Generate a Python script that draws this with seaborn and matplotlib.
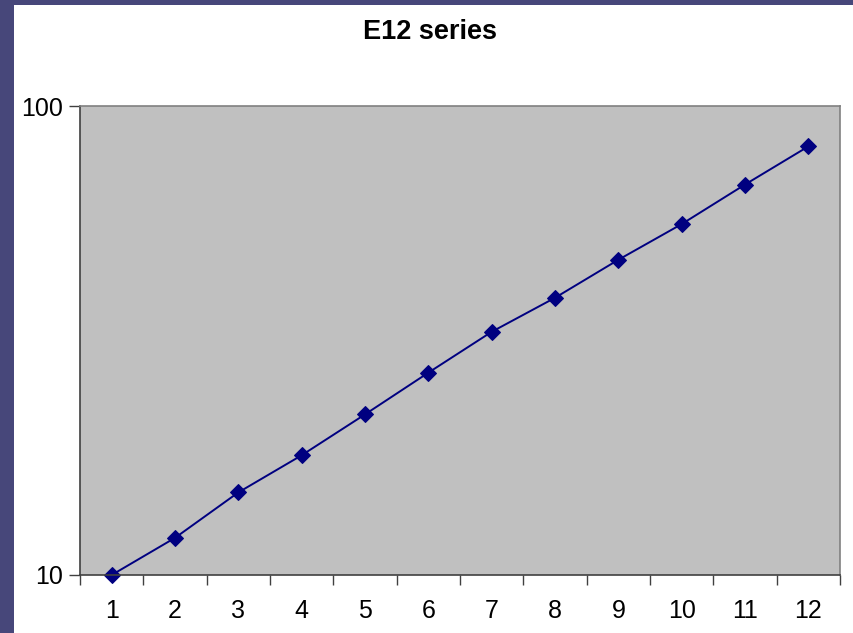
import matplotlib
matplotlib.use("Agg")
import matplotlib.pyplot as plt
import seaborn as sns
import pandas as pd
from matplotlib.patches import Rectangle
from matplotlib.ticker import FixedLocator, NullFormatter

index = list(range(1, 13))
values = [10, 12, 15, 18, 22, 27, 33, 39, 47, 56, 68, 82]
title = "E12 series"

sns.set_theme(style="white")
plt.rcParams['font.family'] = ['Liberation Sans', 'DejaVu Sans']

df = pd.DataFrame({"n": index, "value": values})

fig = plt.figure(figsize=(8.54, 6.33), dpi=100)
fig.patch.set_facecolor("#47477a")
fig.patches.append(Rectangle((14/854, 0), 1 - 14/854, 1 - 5/633,
                             transform=fig.transFigure, facecolor="white",
                             edgecolor="none", zorder=-5))
ax = fig.add_axes([80/854, 1 - 575/633, (840-80)/854, (575-106)/633])
ax.set_zorder(1)
ax.set_facecolor("#c0c0c0")

sns.lineplot(data=df, x="n", y="value", ax=ax, color="#000080", linewidth=1.4,
             marker="D", markersize=8, markeredgecolor="#000080")
for ln in ax.lines:
    ln.set_clip_on(False)

ax.set_yscale("log")
ax.set_ylim(10, 100)
ax.set_xlim(0.5, 12.5)
ax.yaxis.set_major_locator(FixedLocator([10, 100]))
ax.yaxis.set_minor_locator(FixedLocator([]))
ax.set_yticklabels(["10", "100"])
ax.xaxis.set_major_locator(FixedLocator(index))
ax.set_xticklabels([str(i) for i in index])
ax.xaxis.set_minor_locator(FixedLocator([i + 0.5 for i in range(0, 13)]))
ax.xaxis.set_minor_formatter(NullFormatter())
ax.tick_params(axis="x", which="major", length=0, pad=17, labelsize=18, colors="black")
ax.tick_params(axis="x", which="minor", length=7, width=1, color="#404040", direction="out", bottom=True)
ax.tick_params(axis="y", which="major", length=8, width=1, color="#404040", direction="out", left=True, pad=4, labelsize=18)
ax.set_xlabel("")
ax.set_ylabel("")
for lbl in ax.get_xticklabels() + ax.get_yticklabels():
    lbl.set_color("black")

for s in ["left", "bottom"]:
    ax.spines[s].set_color("#404040")
    ax.spines[s].set_linewidth(1.2)
for s in ["top", "right"]:
    ax.spines[s].set_color("#808080")
    ax.spines[s].set_linewidth(1.2)

fig.text(0.5 + 3/854, 1 - 32/633, title, ha="center", va="center",
         fontsize=19.5, fontweight="bold", color="black")

fig.savefig("out.png", dpi=100, facecolor=fig.get_facecolor())
